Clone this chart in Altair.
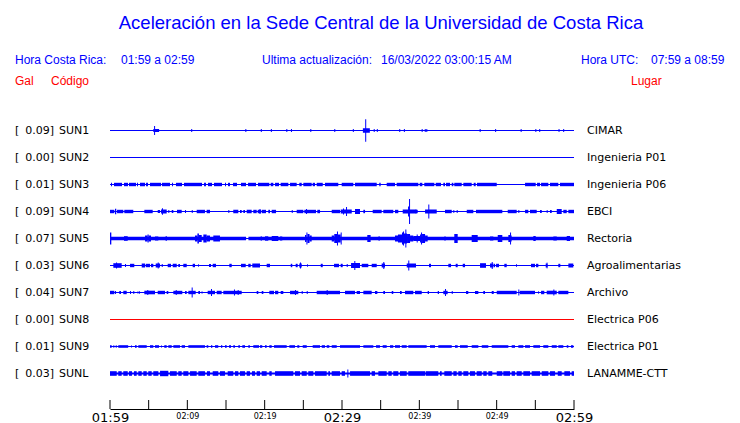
import altair as alt
import pandas as pd

# ---------------- data ----------------
codes = ["SUN1", "SUN2", "SUN3", "SUN4", "SUN5", "SUN6", "SUN7", "SUN8", "SUN9", "SUNL"]
gal = ["0.09", "0.00", "0.01", "0.09", "0.07", "0.03", "0.04", "0.00", "0.01", "0.03"]
places = ["CIMAR", "Ingenieria P01", "Ingenieria P06", "EBCI", "Rectoria",
          "Agroalimentarias", "Archivo", "Electrica P06", "Electrica P01", "LANAMME-CTT"]

# minutes after 01:59
tick_minutes = [0, 5, 10, 15, 20, 25, 30, 35, 40, 45, 50, 55, 60]
tick_labels = ["01:59", "", "02:09", "", "02:19", "", "02:29", "", "02:39", "", "02:49", "", "02:59"]

# bursts of each trace: (start minute, end minute, half amplitude)
sun1 = [(5.6, 6.35, 1.5), (5.7, 5.83, 4.5), (10.5, 10.63, 1.5), (17.5, 17.63, 1.5), (19.5, 19.63, 1.5),
        (20.8, 20.93, 1.5), (22.8, 22.93, 1.5), (23.4, 23.53, 1.5), (25.9, 26.03, 1.5), (29.0, 29.13, 1.5),
        (31.4, 31.53, 1.5), (32.7, 33.6, 2.2), (33.0, 33.13, 11.3), (34.1, 34.23, 1.5), (34.5, 34.63, 1.5),
        (37.4, 37.53, 1.5), (38.0, 38.13, 1.5), (40.3, 40.43, 1.5), (40.7, 40.83, 1.5), (40.9, 41.03, 1.5),
        (47.8, 47.93, 1.5), (49.8, 49.93, 1.5), (53.1, 53.23, 1.5), (55.0, 55.13, 1.5), (55.5, 55.63, 1.5),
        (58.0, 58.13, 1.5), (58.6, 58.73, 1.5)]
sun2 = []
sun3 = [(0.13, 0.26, 1.7), (0.52, 1.55, 1.7), (1.81, 2.33, 1.7), (2.46, 3.36, 1.7), (3.49, 3.62, 1.7),
        (3.88, 4.53, 1.7), (4.66, 4.91, 1.7), (5.17, 6.60, 1.7), (6.72, 7.76, 1.7), (8.02, 8.15, 1.7),
        (8.53, 9.31, 1.7), (9.57, 11.90, 1.7), (12.16, 12.41, 1.7), (12.67, 13.19, 1.7), (13.45, 14.48, 1.7),
        (14.87, 15.00, 1.7), (15.26, 15.52, 1.7), (15.91, 16.42, 1.7), (16.94, 17.59, 1.7), (17.85, 18.88, 1.7),
        (19.14, 20.60, 1.7), (20.78, 21.12, 1.7), (21.34, 21.85, 1.7), (22.07, 23.06, 1.7), (23.28, 24.14, 1.7),
        (24.48, 24.79, 1.7), (25.00, 26.08, 1.7), (26.21, 26.51, 1.7), (26.73, 27.51, 1.7), (27.80, 29.52, 1.7),
        (29.96, 31.46, 1.7), (31.68, 34.49, 1.7), (34.82, 35.00, 1.7), (35.78, 36.85, 1.7), (37.07, 39.87, 1.7),
        (40.05, 40.39, 1.7), (40.64, 41.94, 1.7), (42.12, 42.80, 1.7), (43.10, 43.32, 1.7), (43.45, 43.97, 1.7),
        (44.19, 44.40, 1.7), (44.52, 45.48, 1.7), (45.69, 46.77, 1.7), (47.03, 47.29, 1.7), (47.46, 50.01, 1.7),
        (53.67, 55.05, 1.7), (55.22, 55.61, 1.7), (55.74, 56.68, 1.7), (56.90, 57.97, 1.7), (58.19, 60.00, 1.7)]
sun4 = [(0.00, 0.56, 1.7), (0.65, 0.81, 2.8), (0.91, 1.72, 1.7), (1.85, 3.01, 1.7), (4.44, 5.52, 1.7),
        (6.17, 6.47, 1.5), (6.60, 7.33, 2.0), (6.72, 6.85, 3.3), (7.54, 7.67, 1.5), (7.98, 8.19, 1.5),
        (8.66, 9.27, 1.7), (9.70, 9.83, 1.5), (10.57, 10.70, 1.5), (11.21, 12.28, 1.7), (12.50, 12.93, 1.7),
        (15.30, 15.43, 1.5), (15.94, 16.59, 1.7), (16.81, 17.03, 1.5), (17.24, 17.46, 1.5), (17.68, 18.32, 1.7),
        (18.53, 18.97, 1.7), (19.10, 19.53, 1.7), (19.33, 19.46, 2.5), (19.62, 20.17, 1.7), (20.47, 20.69, 1.7),
        (20.91, 21.47, 1.7), (23.50, 23.63, 1.5), (24.14, 25.00, 1.7), (25.13, 26.64, 1.7), (25.35, 25.48, 2.5),
        (26.81, 27.16, 1.7), (28.67, 29.74, 1.7), (29.83, 31.26, 2.0), (30.13, 30.26, 3.0), (30.52, 30.65, 4.5),
        (31.68, 32.33, 2.5), (32.76, 32.98, 1.7), (33.97, 35.13, 1.7), (35.34, 36.63, 1.7), (36.85, 37.28, 1.7),
        (37.85, 39.66, 2.0), (38.54, 38.67, 5.0), (38.67, 38.80, 12.5), (39.44, 39.79, 1.7), (40.74, 42.25, 2.0),
        (41.16, 41.29, 7.0), (43.32, 44.19, 1.7), (44.40, 44.52, 1.5), (44.83, 44.96, 1.5), (46.13, 46.98, 1.7),
        (47.33, 50.73, 1.7), (51.43, 52.59, 1.7), (52.80, 52.93, 1.5), (53.67, 54.09, 1.7), (54.31, 55.18, 1.7),
        (55.61, 55.83, 1.5), (56.47, 56.59, 1.5), (56.90, 57.12, 1.5), (57.77, 58.41, 2.5), (58.62, 59.06, 1.7),
        (59.27, 60.00, 1.7)]
sun5 = [(0.00, 17.60, 1.7), (17.90, 60.00, 1.7),
        (0.00, 0.17, 6.0), (1.81, 2.29, 2.3), (4.53, 4.85, 3.0), (4.85, 5.00, 4.0), (5.00, 5.30, 3.0),
        (5.82, 6.25, 2.0), (7.20, 7.33, 2.5), (10.99, 11.30, 3.0), (11.30, 11.50, 5.0), (11.50, 11.86, 3.5),
        (12.07, 12.50, 4.0), (12.50, 12.93, 3.0), (13.36, 14.22, 3.0), (19.49, 19.62, 2.3), (20.04, 20.47, 2.2),
        (20.91, 21.76, 2.5), (21.98, 22.28, 2.0), (25.22, 25.40, 3.5), (25.40, 25.53, 6.0), (25.53, 25.80, 4.5),
        (25.80, 26.08, 3.0), (28.67, 29.00, 3.0), (29.00, 29.35, 4.5), (29.35, 29.48, 7.0), (29.48, 29.83, 4.0),
        (29.83, 29.96, 6.0), (33.27, 33.70, 3.5), (34.70, 34.91, 2.0), (36.85, 37.24, 3.0), (37.24, 37.76, 4.0),
        (37.76, 38.02, 6.0), (37.89, 38.02, 7.0), (38.02, 38.41, 5.0), (38.19, 38.32, 9.0), (38.41, 38.80, 4.5),
        (38.80, 39.22, 3.0), (39.22, 40.09, 2.5), (39.66, 39.79, 4.0), (40.09, 40.22, 4.0), (40.22, 40.35, 6.0),
        (40.35, 40.74, 4.5), (40.74, 41.08, 3.0), (43.23, 43.41, 2.0), (44.52, 44.96, 4.5), (46.77, 47.55, 3.5),
        (49.14, 49.57, 2.0), (50.14, 50.73, 3.5), (51.51, 51.73, 3.5), (51.73, 51.86, 6.0), (51.86, 51.94, 3.0),
        (54.74, 55.05, 2.5), (57.33, 57.77, 2.0), (59.06, 59.48, 2.5)]
sun6 = [(0.43, 1.51, 2.3), (0.78, 0.91, 3.0), (1.94, 2.07, 1.5), (2.59, 3.14, 1.7), (4.10, 4.53, 2.0),
        (4.62, 5.17, 1.7), (5.30, 5.60, 1.7), (5.91, 6.47, 2.0), (6.17, 6.30, 3.0), (6.69, 6.82, 1.5),
        (7.46, 7.89, 1.7), (8.11, 8.63, 1.7), (8.83, 9.05, 1.5), (9.48, 9.92, 1.7), (10.69, 10.99, 1.7),
        (11.42, 11.51, 1.5), (12.80, 13.06, 1.5), (13.28, 13.71, 1.7), (15.43, 15.74, 1.7), (16.94, 17.55, 1.7),
        (17.88, 18.19, 1.7), (18.40, 19.40, 2.0), (20.26, 20.69, 1.7), (23.37, 23.57, 1.7), (24.01, 24.27, 1.7),
        (24.48, 24.79, 2.0), (24.57, 24.70, 3.0), (25.51, 25.60, 1.5), (27.25, 27.51, 1.7), (28.97, 29.61, 1.7),
        (29.83, 30.09, 1.7), (30.61, 30.74, 1.5), (31.17, 32.33, 2.5), (31.59, 31.72, 4.5), (32.55, 33.40, 1.7),
        (33.84, 34.49, 1.7), (35.13, 35.56, 2.0), (35.34, 35.47, 3.5), (38.37, 39.57, 2.0), (38.57, 38.70, 5.0),
        (41.25, 41.51, 1.7), (43.75, 44.10, 1.7), (44.70, 44.96, 1.7), (45.61, 45.91, 1.7), (47.85, 48.62, 2.3),
        (49.14, 49.57, 2.0), (49.36, 49.49, 3.5), (49.62, 49.79, 1.7), (49.92, 50.30, 1.7), (50.99, 51.30, 1.7),
        (52.50, 52.60, 1.5), (54.44, 54.96, 1.7), (55.09, 55.39, 1.7), (56.34, 56.59, 2.0), (56.47, 56.56, 3.0),
        (57.97, 58.23, 1.7), (59.27, 59.91, 2.0)]
sun7 = [(0.00, 0.56, 1.7), (0.65, 0.78, 1.5), (1.20, 1.42, 1.5), (1.72, 2.16, 1.7), (2.59, 2.72, 1.5),
        (3.01, 3.14, 1.5), (3.58, 3.66, 1.5), (3.79, 3.88, 1.5), (4.44, 5.82, 1.8), (4.82, 4.95, 2.5),
        (6.17, 7.11, 1.7), (7.33, 7.54, 1.5), (8.19, 9.35, 1.7), (8.50, 8.63, 2.5), (9.70, 9.92, 1.5),
        (10.13, 11.08, 1.7), (10.56, 10.69, 5.0), (11.42, 11.64, 1.5), (11.86, 11.94, 1.5), (12.63, 13.58, 1.7),
        (13.06, 13.19, 3.5), (13.80, 14.44, 1.7), (14.65, 17.03, 1.7), (16.03, 16.16, 3.0), (16.51, 16.64, 2.5),
        (18.97, 19.18, 1.5), (19.62, 19.83, 1.5), (20.60, 21.21, 1.7), (21.34, 21.76, 1.7), (22.07, 22.41, 1.5),
        (23.28, 24.35, 1.7), (23.92, 24.05, 2.5), (24.79, 24.92, 1.5), (25.44, 25.57, 1.5), (26.73, 29.74, 1.7),
        (28.02, 28.15, 2.5), (30.39, 31.68, 1.7), (31.90, 32.33, 1.5), (32.76, 33.84, 1.7), (34.27, 34.57, 1.5),
        (35.34, 35.56, 1.5), (36.43, 36.63, 1.5), (37.50, 37.72, 1.5), (38.15, 39.22, 1.7), (39.44, 40.31, 1.7),
        (41.08, 41.25, 1.5), (42.38, 42.54, 1.5), (43.10, 43.66, 1.7), (43.32, 43.45, 3.5), (44.19, 44.32, 1.5),
        (46.04, 46.33, 1.5), (47.20, 47.63, 1.5), (48.27, 48.49, 1.5), (49.36, 49.62, 1.5), (50.01, 52.59, 1.7),
        (52.80, 52.93, 3.0), (52.99, 54.96, 1.7), (55.39, 55.48, 1.5), (55.74, 56.16, 1.7), (56.47, 57.77, 1.8),
        (57.33, 57.46, 3.0), (57.97, 59.27, 1.7)]
sun8 = []
sun9 = [(0.00, 0.22, 1.3), (0.43, 0.56, 1.3), (0.74, 0.87, 1.3), (1.07, 2.35, 1.3), (2.72, 2.81, 1.3),
        (3.23, 3.45, 1.3), (3.66, 4.75, 1.3), (5.17, 5.60, 1.3), (5.82, 6.34, 1.3), (6.60, 6.69, 1.3),
        (7.02, 7.33, 1.3), (7.54, 7.98, 1.3), (8.19, 9.05, 1.3), (9.27, 9.70, 1.3), (10.13, 12.28, 1.3),
        (12.50, 12.71, 1.3), (13.06, 13.23, 1.3), (13.58, 14.00, 1.3), (14.35, 14.52, 1.3), (14.87, 15.09, 1.3),
        (15.39, 15.65, 1.3), (15.94, 16.16, 1.3), (16.59, 16.81, 1.3), (17.11, 17.46, 1.3), (17.88, 18.10, 1.3),
        (18.53, 19.27, 1.3), (19.40, 19.69, 1.3), (20.04, 20.26, 1.3), (20.60, 20.91, 1.3), (21.21, 22.85, 1.3),
        (23.19, 23.92, 1.3), (24.22, 24.48, 1.3), (24.92, 25.44, 1.3), (26.21, 27.16, 1.3), (27.38, 27.80, 1.3),
        (28.02, 28.36, 1.3), (28.67, 29.32, 1.3), (29.74, 32.33, 1.3), (32.76, 34.05, 1.3), (34.40, 34.91, 1.3),
        (35.26, 35.78, 1.3), (36.21, 36.63, 1.3), (36.85, 37.50, 1.3), (37.72, 38.37, 1.3), (38.57, 40.95, 1.3),
        (41.38, 42.03, 1.3), (42.45, 44.19, 1.3), (44.61, 44.96, 1.3), (45.26, 46.26, 1.3), (46.77, 47.63, 1.3),
        (48.07, 48.92, 1.3), (49.36, 51.51, 1.3), (51.94, 52.37, 1.3), (52.80, 53.45, 1.3), (53.67, 54.31, 1.3),
        (54.74, 55.61, 1.3), (56.03, 56.68, 1.3), (57.12, 57.77, 1.3), (57.97, 58.62, 1.3), (59.06, 59.27, 1.3),
        (59.61, 59.91, 1.3)]
sunl = [(0.00, 60.00, 1.1),
        (0.00, 0.87, 2.3), (1.07, 1.51, 2.3), (1.72, 2.29, 2.3), (2.46, 2.84, 2.3), (3.10, 3.45, 2.3),
        (3.66, 4.10, 2.3), (4.31, 4.75, 2.3), (4.95, 5.39, 2.3), (5.60, 6.25, 2.3), (6.47, 7.54, 2.7),
        (7.76, 8.63, 2.3), (8.83, 9.27, 2.3), (9.48, 10.13, 2.3), (10.35, 11.21, 2.3), (11.42, 12.28, 2.3),
        (12.54, 12.93, 2.3), (13.28, 14.00, 2.3), (14.22, 14.87, 2.3), (15.22, 15.94, 2.3), (16.16, 16.59, 2.3),
        (16.81, 17.46, 2.3), (17.68, 18.10, 2.3), (18.36, 18.75, 2.3), (18.97, 19.40, 2.3), (19.62, 20.26, 2.3),
        (20.60, 20.91, 2.3), (21.34, 23.70, 2.3), (23.92, 24.57, 2.3), (24.79, 25.44, 2.3), (25.64, 26.29, 2.3),
        (26.51, 28.02, 2.3), (28.23, 28.45, 2.3), (28.67, 29.74, 2.3), (29.96, 30.39, 2.3), (30.69, 30.82, 4.0),
        (31.04, 33.62, 2.3), (33.84, 34.27, 2.3), (34.70, 35.78, 2.3), (35.99, 36.43, 2.3), (36.63, 37.28, 2.3),
        (37.50, 38.37, 2.3), (38.57, 40.74, 2.3), (40.82, 42.45, 2.3), (42.67, 42.89, 2.3), (43.23, 44.19, 2.3),
        (44.40, 44.83, 2.3), (45.04, 45.48, 2.3), (45.69, 46.33, 2.3), (46.55, 47.20, 2.3), (47.42, 48.07, 2.3),
        (48.27, 48.71, 2.3), (48.92, 49.43, 2.3), (50.01, 50.73, 2.3), (50.86, 51.73, 2.3), (51.94, 52.37, 2.3),
        (52.59, 53.24, 2.3), (53.45, 54.31, 2.3), (54.53, 55.61, 2.3), (55.83, 56.68, 2.3), (56.90, 57.55, 2.3),
        (57.90, 58.41, 2.3), (58.75, 59.48, 2.3), (59.70, 60.00, 2.3)]

bursts = {"SUN1": sun1, "SUN2": sun2, "SUN3": sun3, "SUN4": sun4, "SUN5": sun5,
          "SUN6": sun6, "SUN7": sun7, "SUN8": sun8, "SUN9": sun9, "SUNL": sunl}

# ---------------- tables ----------------
ROW = 27  # trace spacing in plot units
rows = []
for i, c in enumerate(codes):
    center = ROW * (i + 1)
    for t0, t1, a in bursts[c]:
        rows.append({"code": c, "t0": t0, "t1": t1, "lo": center - a, "hi": center + a})
burst_df = pd.DataFrame(rows)

station_df = pd.DataFrame({
    "code": codes,
    "galtxt": [g + "]" for g in gal],
    "place": places,
    "center": [ROW * (i + 1) for i in range(len(codes))],
    "t0": [0] * len(codes),
    "t1": [60] * len(codes),
})
tick_df = pd.DataFrame({"t0": tick_minutes})

BLUE = "#0000ff"
RED = "#ff0000"
W, H = 464, 306

xs = alt.Scale(domain=[0, 60], nice=False, zero=False)
ys = alt.Scale(domain=[-0.5, H - 0.5], reverse=True, nice=False, zero=False)
color = alt.condition(alt.datum.code == "SUN8", alt.value(RED), alt.value(BLUE))

lab_expr = "[" + ",".join("'%s'" % s for s in tick_labels) + "][round(datum.value/5)]"
big = "datum.value % 30 === 0"
xaxis = alt.Axis(values=tick_minutes, labelExpr=lab_expr, ticks=False, domain=True,
                 domainColor="black", domainWidth=1, grid=False, title=None,
                 labelFont="DejaVu Sans", labelColor="black", labelFlush=False,
                 labelOverlap=False, labelBaseline="alphabetic",
                 labelFontSize={"condition": {"test": big, "value": 13}, "value": 8},
                 labelPadding={"condition": {"test": big, "value": 12}, "value": 9.5})
X0 = alt.X("t0:Q", scale=xs, axis=xaxis, title=None)

base_lines = alt.Chart(station_df).mark_rule(strokeWidth=1).encode(
    x=X0, x2="t1:Q",
    y=alt.Y("center:Q", scale=ys, axis=None), color=color)

rects = alt.Chart(burst_df).mark_rect().encode(
    x=X0, x2="t1:Q",
    y=alt.Y("lo:Q", scale=ys, axis=None), y2="hi:Q", color=color)

ticks = alt.Chart(tick_df).mark_rule(color="black", strokeWidth=1).encode(
    x=X0, y=alt.value(H - 9), y2=alt.value(H))

LFONT = "DejaVu Sans"
yc = alt.Y("center:Q", scale=ys, axis=None)
bracket = alt.Chart(station_df).mark_text(text="[", align="left", baseline="middle", font=LFONT,
                                           fontSize=11, color="black").encode(x=alt.value(-95), y=yc)
galtxt = alt.Chart(station_df).mark_text(align="right", baseline="middle", font=LFONT,
                                          fontSize=11, color="black").encode(
    x=alt.value(-56), y=yc, text="galtxt:N")
codetxt = alt.Chart(station_df).mark_text(align="left", baseline="middle", font=LFONT,
                                           fontSize=11, color="black").encode(
    x=alt.value(-51), y=yc, text="code:N")
placetxt = alt.Chart(station_df).mark_text(align="left", baseline="middle", font=LFONT,
                                            fontSize=11, color="black").encode(
    x=alt.value(477), y=yc, text="place:N")

one = pd.DataFrame({"k": [0]})


def note(text, x, y, size=12, col=BLUE, align="left"):
    return alt.Chart(one).mark_text(text=text, align=align, baseline="alphabetic", fontSize=size,
                                    font="Liberation Sans", color=col).encode(
        x=alt.value(x), y=alt.value(y))


headers = [
    note("Aceleración en la Sede Central de la Universidad de Costa Rica", 271, -74, size=18.5, align="center"),
    note("Hora Costa Rica:", -95, -38.7),
    note("01:59 a 02:59", 11, -38.7),
    note("Ultima actualización:", 152, -38.7),
    note("16/03/2022 03:00:15 AM", 271, -38.7),
    note("Hora UTC:", 471, -38.7),
    note("07:59 a 08:59", 541, -38.7),
    note("Gal", -95, -18.5, col=RED),
    note("Código", -59, -18.5, col=RED),
    note("Lugar", 521, -18.5, col=RED),
]

chart = alt.layer(base_lines, rects, ticks, bracket, galtxt, codetxt, placetxt, *headers).properties(
    width=W, height=H,
    autosize=alt.AutoSizeParams(type="none"),
    padding={"left": 102, "top": 95, "right": 158, "bottom": 14},
    background="white",
).configure_view(stroke=None)

chart.save("out.html", embed_options={"renderer": "svg", "actions": False})
